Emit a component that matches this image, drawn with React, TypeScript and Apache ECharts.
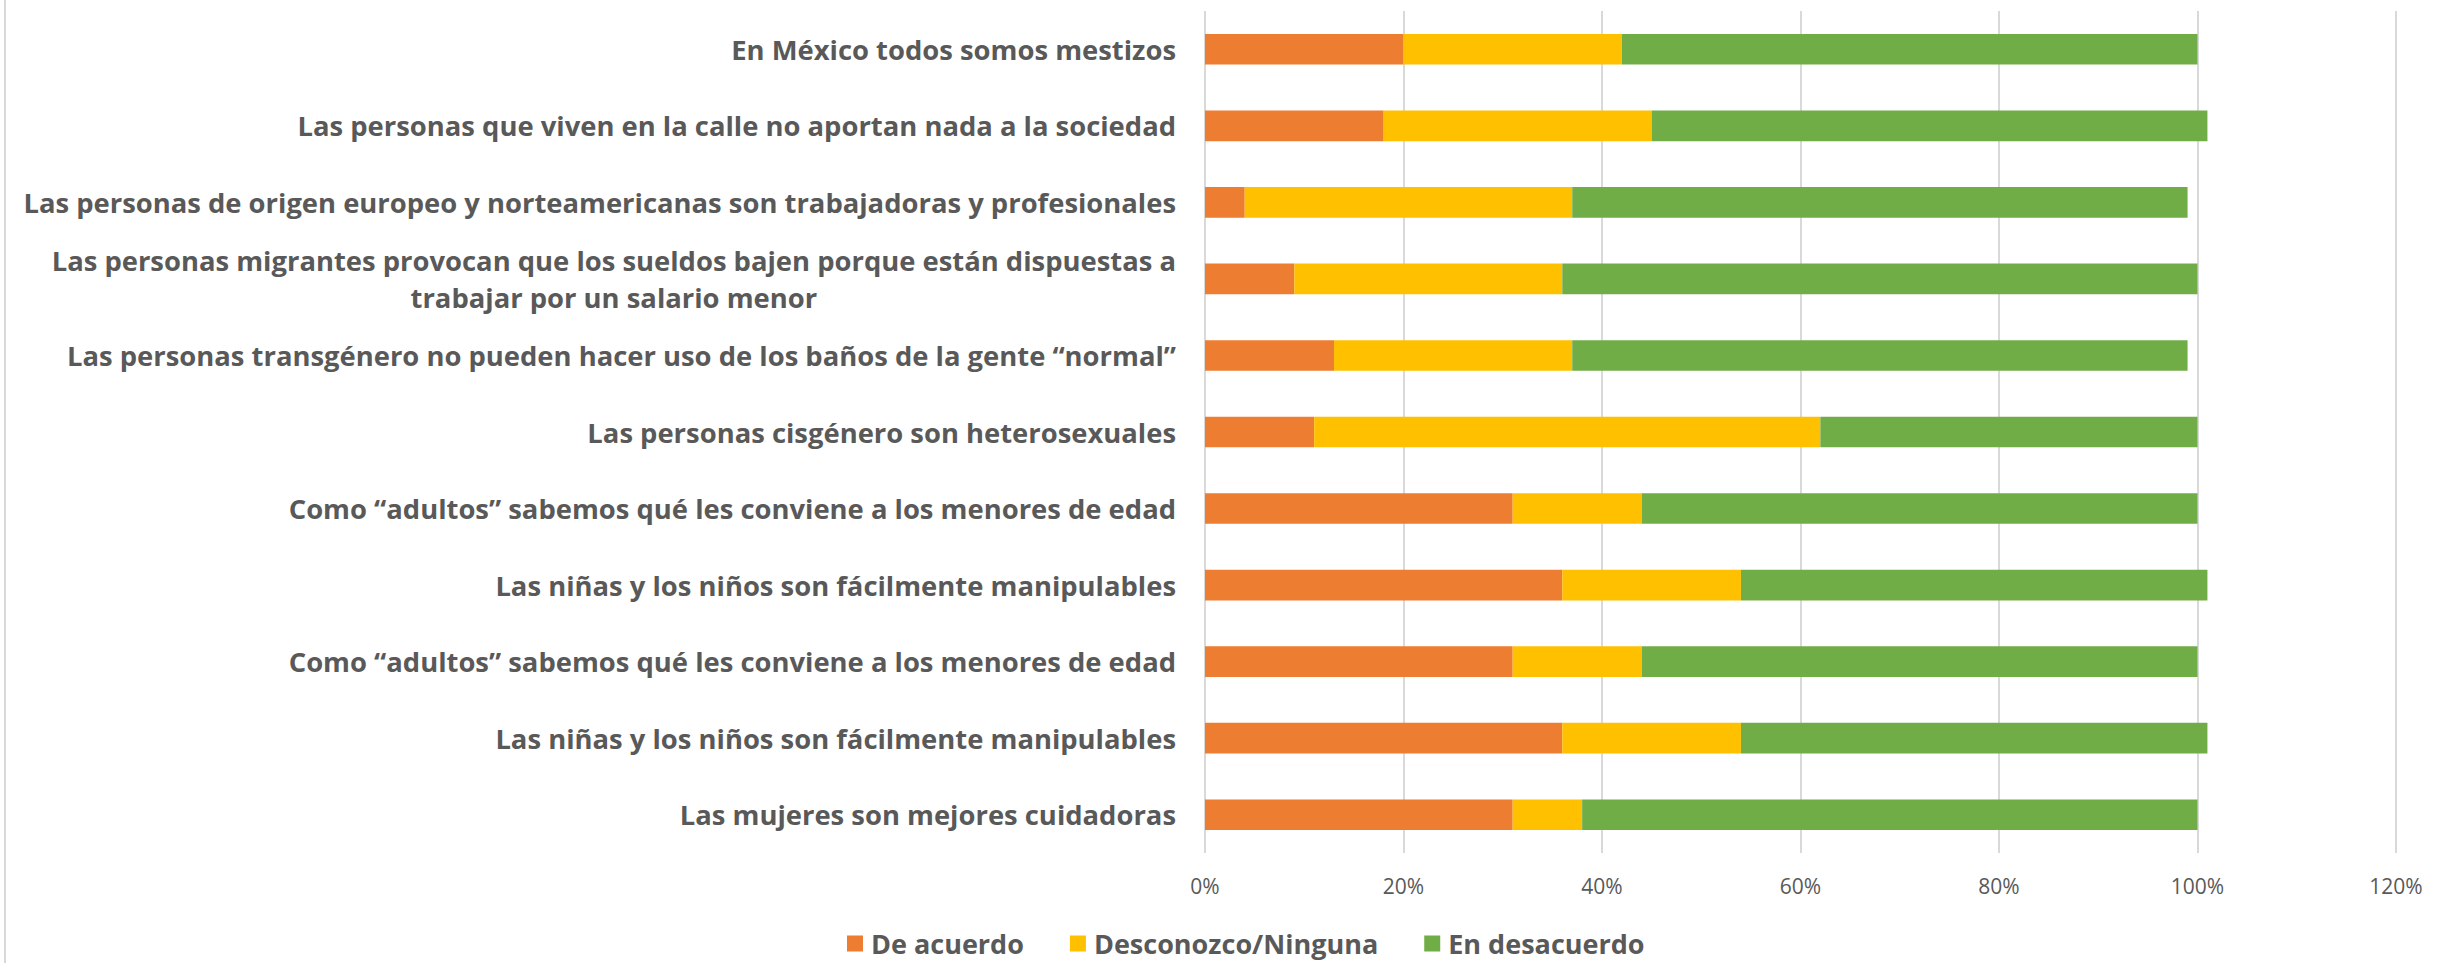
import React, { useEffect, useRef } from "react";
import * as echarts from "echarts";

const categories = [
  "En México todos somos mestizos",
  "Las personas que viven en la calle no aportan nada a la sociedad",
  "Las personas de origen europeo y norteamericanas son trabajadoras y profesionales",
  "Las personas migrantes provocan que los sueldos bajen porque están dispuestas a\ntrabajar por un salario menor",
  "Las personas transgénero no pueden hacer uso de los baños de la gente “normal”",
  "Las personas cisgénero son heterosexuales",
  "Como “adultos” sabemos qué les conviene a los menores de edad",
  "Las niñas y los niños son fácilmente manipulables",
  "Como “adultos” sabemos qué les conviene a los menores de edad",
  "Las niñas y los niños son fácilmente manipulables",
  "Las mujeres son mejores cuidadoras",
];

const deAcuerdo = [20, 18, 4, 9, 13, 11, 31, 36, 31, 36, 31];
const desconozco = [22, 27, 33, 27, 24, 51, 13, 18, 13, 18, 7];
const enDesacuerdo = [58, 56, 62, 64, 62, 38, 56, 47, 56, 47, 62];

const seriesNames = ["De acuerdo", "Desconozco/Ninguna", "En desacuerdo"];
const seriesColors = ["#ED7D31", "#FFC000", "#70AD47"];
const xTicks = { min: 0, max: 120, interval: 20 };

export default function App() {
  const ref = useRef<HTMLDivElement>(null);
  useEffect(() => {
    document.body.style.margin = "0";
    if (!ref.current) return;
    const chart = echarts.init(ref.current, null, { renderer: "svg" });
    const values = [deAcuerdo, desconozco, enDesacuerdo];
    chart.setOption({
      animation: false,
      backgroundColor: "#ffffff",
      textStyle: { fontFamily: "Open Sans" },
      grid: { left: 1205, right: 55, top: 11, bottom: 110, containLabel: false },
      legend: {
        bottom: 1,
        left: 842,
        itemWidth: 16,
        itemHeight: 16,
        itemGap: 46,
        icon: "rect",
        textStyle: {
          fontFamily: "Open Sans",
          fontWeight: "bold",
          fontSize: 27,
          color: "#595959",
          padding: [0, 0, 0, 3],
        },
        data: seriesNames,
      },
      xAxis: {
        type: "value",
        min: xTicks.min,
        max: xTicks.max,
        interval: xTicks.interval,
        axisLine: { show: false },
        axisTick: { show: false },
        splitLine: { show: true, lineStyle: { color: "#d9d9d9", width: 2 } },
        axisLabel: {
          formatter: "{value}%",
          fontFamily: "Open Sans",
          fontSize: 21,
          color: "#595959",
          margin: 22,
        },
      },
      yAxis: {
        type: "category",
        inverse: true,
        data: categories,
        axisLine: { show: false },
        axisTick: { show: false },
        splitLine: { show: false },
        axisLabel: {
          margin: 29,
          formatter: (v: string) =>
            v
              .split("\n")
              .map((l) => `{c|${l}}`)
              .join("\n"),
          rich: {
            c: {
              align: "center",
              fontFamily: "Open Sans",
              fontWeight: "bold",
              fontSize: 27.4,
              lineHeight: 37,
              color: "#595959",
            },
          },
        },
      },
      graphic: [
        {
          type: "line",
          shape: { x1: 5, y1: 0, x2: 5, y2: 963 },
          style: { stroke: "#d9d9d9", lineWidth: 2 },
        },
      ],
      series: seriesNames.map((name, i) => ({
        name,
        type: "bar",
        stack: "total",
        barCategoryGap: "60%",
        itemStyle: { color: seriesColors[i] },
        data: values[i],
      })),
    });
    return () => chart.dispose();
  }, []);
  return <div ref={ref} style={{ width: 2451, height: 963 }} />;
}
